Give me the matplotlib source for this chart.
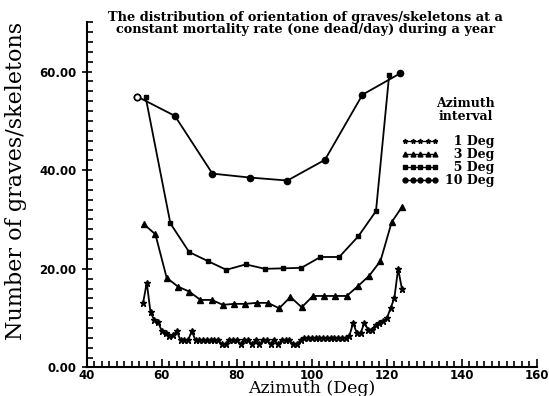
import matplotlib.pyplot as plt
from matplotlib.ticker import MultipleLocator, FormatStrFormatter

# 1 Deg interval (stars)
deg1_x = [55, 56, 57, 58, 59, 60, 61, 62, 63, 64, 65, 66, 67, 68, 69, 70, 71, 72, 73, 74,
          75, 76, 77, 78, 79, 80, 81, 82, 83, 84, 85, 86, 87, 88, 89, 90, 91, 92, 93, 94,
          95, 96, 97, 98, 99, 100, 101, 102, 103, 104, 105, 106, 107, 108, 109, 110, 111, 112, 113, 114,
          115, 116, 117, 118, 119, 120, 121, 122, 123, 124]
deg1_y = [13.0, 17.2, 11.2, 9.6, 9.2, 7.4, 7.0, 6.4, 6.5, 7.4, 5.5, 5.5, 5.5, 7.4, 5.5, 5.5, 5.5, 5.5, 5.5, 5.5,
          5.5, 4.7, 4.7, 5.5, 5.5, 5.5, 4.7, 5.5, 5.5, 4.7, 5.5, 4.7, 5.5, 5.5, 4.7, 5.5, 4.7, 5.5, 5.5, 5.5,
          4.7, 4.7, 5.5, 6.0, 6.0, 6.0, 6.0, 6.0, 6.0, 6.0, 6.0, 6.0, 6.0, 6.0, 6.0, 6.4, 9.0, 7.0, 7.0, 9.0,
          7.7, 7.7, 8.7, 9.0, 9.4, 10.0, 12.0, 14.1, 20.0, 16.0]

# 3 Deg interval (triangles)
deg3_x = [55.3, 58.3, 61.3, 64.3, 67.3, 70.3, 73.3, 76.3, 79.3, 82.3, 85.3, 88.3,
          91.3, 94.3, 97.3, 100.3, 103.3, 106.3, 109.3, 112.3, 115.3, 118.3, 121.3, 124.0]
deg3_y = [29.0, 27.0, 18.2, 16.4, 15.4, 13.7, 13.7, 12.7, 12.9, 12.9, 13.1, 13.1,
          12.0, 14.3, 12.2, 14.5, 14.5, 14.5, 14.5, 16.5, 18.6, 21.6, 29.5, 32.5]

# 5 Deg interval (squares)
deg5_x = [55.7, 62.3, 67.3, 72.2, 77.2, 82.4, 87.5, 92.3, 97.2, 102.3, 107.3, 112.4, 117.1, 120.6]
deg5_y = [54.8, 29.2, 23.4, 21.6, 19.8, 20.9, 20.0, 20.1, 20.2, 22.4, 22.4, 26.6, 31.7, 59.2]

# 10 Deg interval (circles)
deg10_x = [53.5, 63.5, 73.5, 83.5, 93.5, 103.5, 113.5, 123.5]
deg10_y = [54.9, 51.0, 39.3, 38.5, 37.9, 42.1, 55.3, 59.6]

labels = ['\u20071 Deg', '\u20073 Deg', '\u20075 Deg', '10 Deg']

fig = plt.figure(figsize=(5.49, 3.96), dpi=100)
ax = fig.add_axes([0.158, 0.072, 0.82, 0.872])

lw = 1.3
ax.plot(deg1_x, deg1_y, 'k-', marker='*', ms=5, lw=lw, label=labels[0])
ax.plot(deg3_x, deg3_y, 'k-', marker='^', ms=4, lw=lw, label=labels[1])
ax.plot(deg5_x, deg5_y, 'k-', marker='s', ms=3.5, lw=lw, label=labels[2])
ax.plot(deg10_x, deg10_y, 'k-', marker='o', ms=4.5, lw=lw, label=labels[3])
# first circle drawn open as in the original
ax.plot(deg10_x[:1], deg10_y[:1], 'o', ms=4.5, mfc='white', mec='k', mew=1.2)

ax.set_xlim(40, 160)
ax.set_ylim(0, 70)
ax.xaxis.set_major_locator(MultipleLocator(20))
ax.xaxis.set_minor_locator(MultipleLocator(2))
ax.yaxis.set_major_locator(MultipleLocator(20))
ax.yaxis.set_minor_locator(MultipleLocator(2))
ax.yaxis.set_major_formatter(FormatStrFormatter('%.2f'))

for s in ['top', 'right']:
    ax.spines[s].set_visible(False)
for s in ['left', 'bottom']:
    ax.spines[s].set_linewidth(1.5)

ax.tick_params(axis='x', which='both', direction='in', width=1.2)
ax.tick_params(axis='x', which='major', length=6, pad=1)
ax.tick_params(axis='x', which='minor', length=4)
ax.tick_params(axis='y', which='major', direction='inout', length=7, width=1.2, pad=4)
ax.tick_params(axis='y', which='minor', direction='in', length=4, width=1.2)
for lab in ax.get_xticklabels() + ax.get_yticklabels():
    lab.set_fontweight('bold')
    lab.set_fontsize(8.5)

ax.set_xlabel('Azimuth (Deg)', fontsize=12.5, family='DejaVu Serif', labelpad=-1)
ax.set_ylabel('Number of graves/skeletons', fontsize=16, family='DejaVu Serif')
ax.yaxis.set_label_coords(-0.132, 0.54)

fig.text(0.556, 0.972, 'The distribution of orientation of graves/skeletons at a\n'
         'constant mortality rate (one dead/day) during a year',
         ha='center', va='top', fontsize=9.3, fontweight='bold', family='DejaVu Serif',
         linespacing=0.9)

leg = ax.legend(loc='upper left', bbox_to_anchor=(0.68, 0.81), frameon=False,
                title='Azimuth\ninterval', numpoints=5, handlelength=3.0,
                handletextpad=0.5, labelspacing=0.0, borderpad=0.2,
                alignment='right',
                prop={'family': 'DejaVu Serif', 'weight': 'bold', 'size': 9})
leg.get_title().set_fontweight('bold')
leg.get_title().set_family('DejaVu Serif')
leg.get_title().set_fontsize(9)
leg.get_title().set_linespacing(1.0)
leg.get_title().set_multialignment('center')
leg._legend_box.sep = 9
for h in leg.legend_handles:
    h.set_markersize(3.5)
    h.set_linewidth(1)

fig.savefig('out.png', dpi=100)
